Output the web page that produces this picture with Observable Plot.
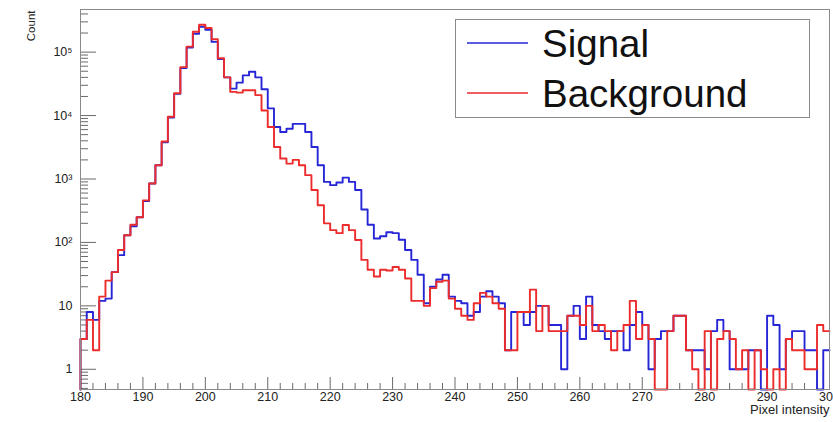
<!DOCTYPE html>
<html>
<head>
<meta charset="utf-8">
<script src="https://cdn.jsdelivr.net/npm/d3@7"></script>
<script src="https://cdn.jsdelivr.net/npm/@observablehq/plot@0.6"></script>
<style>
  body { margin: 0; background: #fff; }
  #wrap { position: relative; width: 833px; height: 422px; font-family: "Liberation Sans", Arial, sans-serif; }
  #legend { position: absolute; left: 0; top: 0; pointer-events: none; }
</style>
</head>
<body>
<div id="wrap"></div>
<script>
// ---- data ----
const binStart = 180;
const binWidth = 1;
const seriesNames = ["Signal", "Background"];
const seriesColors = ["#2626d6", "#ec2c2c"];

const signal = [
  3, 8, 6, 12, 13, 34, 63, 130, 180, 250,
  450, 850, 1650, 3800, 9300, 22000, 56000, 118000, 195000, 250000,
  225000, 145000, 78000, 40000, 26600, 33000, 43000, 49000, 40000, 26000,
  13000, 6600, 5500, 6200, 7400, 7400, 5500, 3200, 1650, 900,
  800, 880, 1050, 900, 670, 330, 190, 115, 125, 145,
  140, 110, 76, 53, 31, 11, 20, 26, 31, 14,
  12, 11, 7, 8, 14, 17, 14, 11, 2, 8,
  8, 5, 8, 10, 10, 5, 5, 1, 7, 10,
  3, 14, 5, 4, 3, 4, 4, 2, 5, 8,
  5, 1, 3, 4, 4, 7, 7, 2, 2, 2,
  1, 4, 6, 4, 1, 1, 1, 2, 2, 0,
  7, 5, 1, 3, 4, 4, 2, 2, 0, 2
];

const background = [
  3, 6, 2, 14, 25, 34, 76, 130, 190, 250,
  460, 850, 1650, 3900, 9600, 22500, 58000, 122000, 210000, 270000,
  240000, 160000, 80000, 40000, 23600, 23000, 25000, 25000, 21000, 12000,
  6600, 3200, 2100, 1750, 2000, 1650, 1150, 670, 385, 200,
  156, 140, 188, 156, 109, 53, 37, 29, 37, 36,
  41, 37, 27, 12, 12, 10, 19, 24, 25, 13,
  9, 7, 6, 11, 16, 14, 11, 9, 2, 2,
  8, 8, 18, 4, 10, 4, 4, 4, 7, 7,
  5, 10, 4, 5, 4, 2, 4, 5, 12, 3,
  5, 3, 0, 0, 4, 7, 7, 2, 1, 0,
  4, 0, 3, 4, 3, 1, 2, 0, 2, 1,
  0, 1, 0, 3, 2, 2, 1, 1, 5, 4
];

const xDomain = [180, 300];
const yDomain = [0.48, 470000];
const xTickValues = [180, 190, 200, 210, 220, 230, 240, 250, 260, 270, 280, 290, 300];
const yTickValues = [1, 10, 100, 1000, 10000, 100000];
const yTickLabels = ["1", "10", "10²", "10³", "10⁴", "10⁵"];
const xTitle = "Pixel intensity";
const yTitle = "Count";

// ---- derived tables ----
function stepRows(counts, series) {
  const rows = [{x: binStart, y: 0, series}];
  counts.forEach((c, i) => rows.push({x: binStart + i * binWidth, y: c, series}));
  rows.push({x: binStart + counts.length * binWidth, y: counts[counts.length - 1], series});
  return rows;
}
const sigRows = stepRows(signal, seriesNames[0]);
const bgRows = stepRows(background, seriesNames[1]);

const xMinor = d3.range(xDomain[0], xDomain[1] + 0.001, 2).filter(v => !xTickValues.includes(v));
const yMinor = [];
for (let e = -1; e <= 5; e++) {
  for (let k = 2; k <= 9; k++) {
    const v = k * Math.pow(10, e);
    if (v >= yDomain[0] && v <= yDomain[1]) yMinor.push(v);
  }
}
const yClamp = d => Math.max(d.y, yDomain[0]);

const axisColor = "#6a6a6a";
const font = "'Liberation Sans', Arial, sans-serif";

const chart = Plot.plot({
  width: 833,
  height: 422,
  marginLeft: 80,
  marginRight: 4,
  marginTop: 9,
  marginBottom: 33,
  x: {domain: xDomain, label: null},
  y: {type: "log", domain: yDomain, label: null},
  style: {fontFamily: font, background: "white", color: "#222"},
  marks: [
    Plot.axisY(yMinor, {anchor: "left", tickSize: 8, dx: 8, text: null, label: null, stroke: axisColor}),
    Plot.axisY(yTickValues, {anchor: "left", tickSize: 16, dx: 16, text: null, label: null, stroke: axisColor}),
    Plot.axisY(yTickValues, {anchor: "left", tickSize: 0, tickPadding: 8, label: null, fontSize: 12.5,
      tickFormat: d => yTickLabels[yTickValues.indexOf(d)]}),
    Plot.axisX(xMinor, {anchor: "bottom", tickSize: 6, dy: -6, text: null, label: null, stroke: axisColor}),
    Plot.axisX(xTickValues, {anchor: "bottom", tickSize: 12, dy: -12, text: null, label: null, stroke: axisColor}),
    Plot.axisX(xTickValues, {anchor: "bottom", tickSize: 0, tickPadding: 3, label: null, fontSize: 12.5,
      tickFormat: d => String(d)}),
    Plot.line(sigRows, {x: "x", y: yClamp, curve: "step-after", stroke: seriesColors[0], strokeWidth: 1.9}),
    Plot.line(bgRows, {x: "x", y: yClamp, curve: "step-after", stroke: seriesColors[1], strokeWidth: 1.9}),
    Plot.frame({stroke: "#8a8a8a"}),
    Plot.text([yTitle], {frameAnchor: "top-left", dx: -54, dy: 1, rotate: -90, textAnchor: "end", fontSize: 11.5, fill: "#222"}),
    Plot.text([xTitle], {frameAnchor: "bottom-right", dy: 24, textAnchor: "end", fontSize: 13, fill: "#222"})
  ]
});

const wrap = document.getElementById("wrap");
wrap.appendChild(chart);

// ---- legend (overlay) ----
const ns = "http://www.w3.org/2000/svg";
const leg = document.createElementNS(ns, "svg");
leg.setAttribute("id", "legend");
leg.setAttribute("width", 833);
leg.setAttribute("height", 422);
const box = document.createElementNS(ns, "rect");
box.setAttribute("x", 455.5); box.setAttribute("y", 19.5);
box.setAttribute("width", 354); box.setAttribute("height", 98);
box.setAttribute("fill", "#fff"); box.setAttribute("stroke", "#8a8a8a");
leg.appendChild(box);
seriesNames.forEach((name, i) => {
  const cy = 43 + i * 50;
  const ln = document.createElementNS(ns, "line");
  ln.setAttribute("x1", 467); ln.setAttribute("x2", 528);
  ln.setAttribute("y1", cy); ln.setAttribute("y2", cy);
  ln.setAttribute("stroke", seriesColors[i]); ln.setAttribute("stroke-width", 2);
  ln.setAttribute("opacity", 0.75);
  leg.appendChild(ln);
  const t = document.createElementNS(ns, "text");
  t.setAttribute("x", 542); t.setAttribute("y", cy + 14);
  t.setAttribute("font-family", font); t.setAttribute("font-size", 38.5);
  t.setAttribute("fill", "#111");
  t.textContent = name;
  leg.appendChild(t);
});
wrap.appendChild(leg);
</script>
</body>
</html>
